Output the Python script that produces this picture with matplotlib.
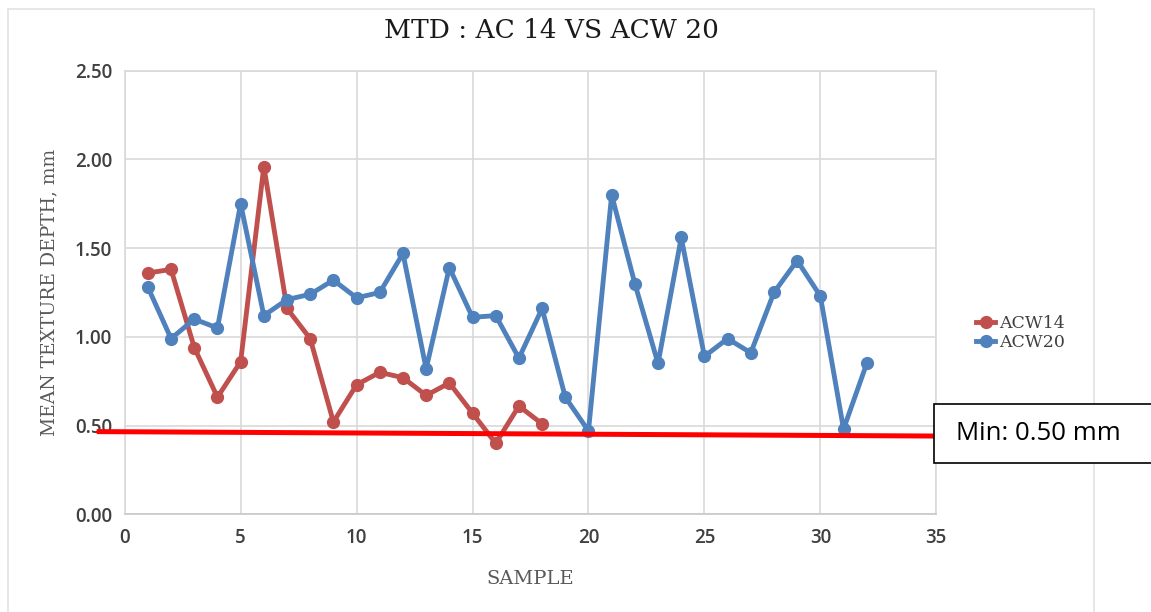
import matplotlib.pyplot as plt
from matplotlib.patches import Rectangle

# sample numbers and MTD readings (mm)
samples_14 = list(range(1, 19))
acw14 = [1.36, 1.38, 0.94, 0.66, 0.86, 1.96, 1.16, 0.99, 0.52,
         0.73, 0.80, 0.77, 0.67, 0.74, 0.57, 0.40, 0.61, 0.51]

samples_20 = list(range(1, 33))
acw20 = [1.28, 0.99, 1.10, 1.05, 1.75, 1.12, 1.21, 1.24, 1.32, 1.22,
         1.25, 1.47, 0.82, 1.39, 1.11, 1.12, 0.88, 1.16, 0.66, 0.47,
         1.80, 1.30, 0.85, 1.56, 0.89, 0.99, 0.91, 1.25, 1.43, 1.23,
         0.48, 0.85]

# hand drawn "min" line on the original chart (not quite level)
min_line_x = [-1.1, 35]
min_line_y = [0.466, 0.441]
min_label = "Min: 0.50 mm"

RED = "#C0504D"
BLUE = "#4F81BD"
GRID = "#D9D9D9"
TXT = "#404040"


def main():
    fig = plt.figure(figsize=(11.51, 6.12), dpi=100)
    W, H = 1151.0, 612.0

    # chart area border
    fig.patches.append(Rectangle((8 / W, -0.1), (1094 - 8) / W, (H - 9) / H + 0.1,
                                 transform=fig.transFigure, fill=False,
                                 edgecolor="#E3E3E3", lw=1.2))

    ax = fig.add_axes([124.7 / W, 1 - 514.3 / H, (936.3 - 124.7) / W, (514.3 - 70.7) / H])
    ax.plot(samples_14, acw14, color=RED, lw=3.5, marker="o", ms=8.5,
            label="ACW14", solid_joinstyle="round", zorder=3)
    ax.plot(samples_20, acw20, color=BLUE, lw=3.5, marker="o", ms=8.5,
            label="ACW20", solid_joinstyle="round", zorder=3)

    ax.set_xlim(0, 35)
    ax.set_ylim(0, 2.5)
    ax.set_xticks(range(0, 36, 5))
    ax.set_yticks([0, 0.5, 1.0, 1.5, 2.0, 2.5])
    ax.set_yticklabels(["%.2f" % v for v in ax.get_yticks()])
    ax.grid(True, color=GRID, lw=1.2)
    ax.set_axisbelow(True)
    for s in ax.spines.values():
        s.set_color(GRID)
        s.set_linewidth(1.2)
    ax.spines["bottom"].set_color("#C8C8C8")
    ax.tick_params(length=0, labelsize=13.5, labelcolor=TXT)
    ax.tick_params(axis="x", pad=10)
    ax.tick_params(axis="y", pad=9)
    for lab in ax.get_xticklabels() + ax.get_yticklabels():
        lab.set_family("Open Sans")
        lab.set_weight("semibold")

    ax.set_xlabel("SAMPLE", family="DejaVu Serif", fontsize=14, color="#595959", labelpad=16)
    ax.set_ylabel("MEAN TEXTURE DEPTH, mm", family="DejaVu Serif", fontsize=13.5,
                  color="#595959", labelpad=12)

    fig.text(551 / W, 1 - 30 / H, "MTD : AC 14 VS ACW 20", family="DejaVu Serif",
             fontsize=19, color="#1a1a1a", ha="center", va="center")

    leg = ax.legend(loc="center left", bbox_to_anchor=(964 / W, 1 - 333 / H),
                    bbox_transform=fig.transFigure, frameon=False,
                    prop={"family": "DejaVu Serif", "size": 12.5},
                    handlelength=1.1, handletextpad=0.25, labelspacing=0.15,
                    borderpad=0.2)
    for t in leg.get_texts():
        t.set_color(TXT)

    # the min line and its label box
    ax.plot(min_line_x, min_line_y, color="#FF0000", lw=3.6, clip_on=False, zorder=4)
    fig.patches.append(Rectangle((934 / W, 1 - 463 / H), 0.3, (463 - 404) / H,
                                 transform=fig.transFigure, facecolor="white",
                                 edgecolor="black", lw=1.2, zorder=5))
    fig.text(956 / W, 1 - 434 / H, min_label, family="Open Sans", fontsize=18.5,
             color="black", ha="left", va="center", zorder=6)

    fig.savefig("out.png", dpi=100)


if __name__ == "__main__":
    main()
